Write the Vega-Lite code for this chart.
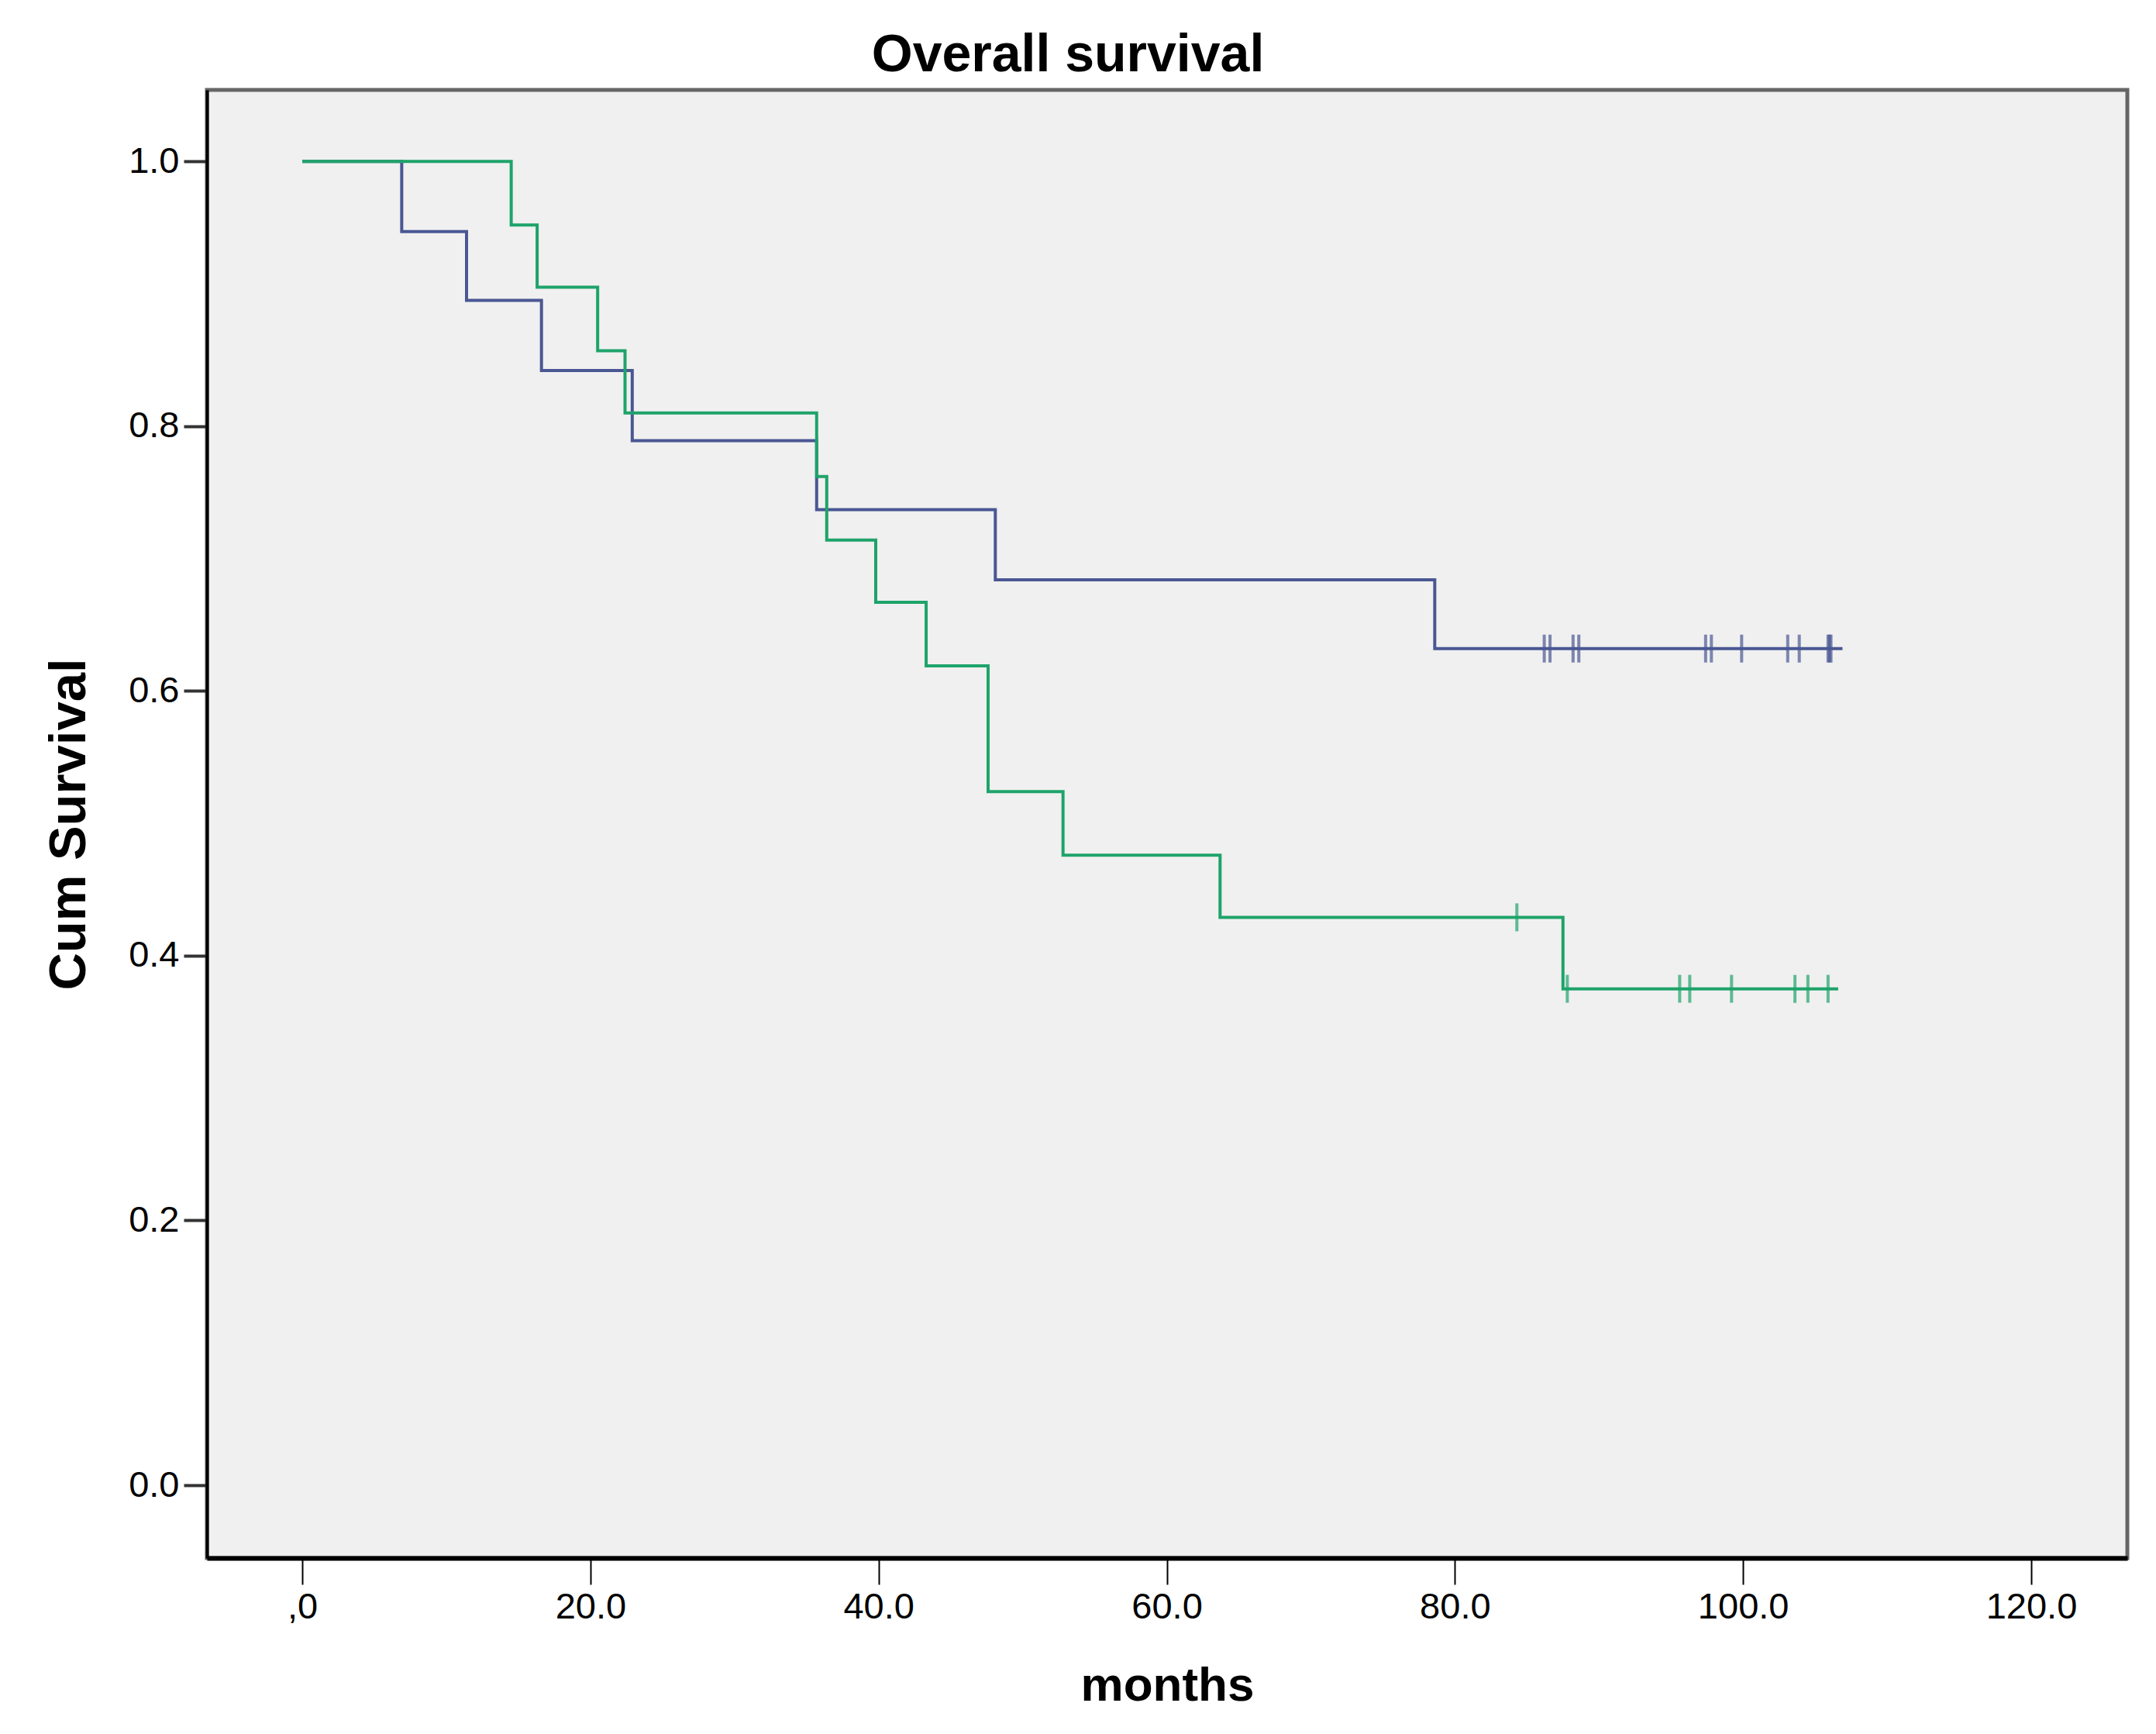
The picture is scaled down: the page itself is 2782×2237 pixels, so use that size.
{
  "$schema": "https://vega.github.io/schema/vega-lite/v6.json",
  "autosize": "none",
  "width": 2478,
  "height": 1894,
  "padding": {"left": 267, "top": 116, "right": 37, "bottom": 227},
  "background": "white",
  "title": {
    "text": "Overall survival",
    "font": "Liberation Sans",
    "fontSize": 68,
    "fontWeight": "bold",
    "color": "black",
    "anchor": "middle",
    "dx": -128,
    "offset": 10
  },
  "config": {
    "view": {"fill": "#f0f0f0", "stroke": "#666666", "strokeWidth": 5}
  },
  "datasets": {
    "curve": [
      {"group": "1", "months": 0, "surv": 1.0},
      {"group": "1", "months": 6.9, "surv": 0.947},
      {"group": "1", "months": 11.4, "surv": 0.895},
      {"group": "1", "months": 16.6, "surv": 0.842},
      {"group": "1", "months": 22.9, "surv": 0.789},
      {"group": "1", "months": 35.7, "surv": 0.737},
      {"group": "1", "months": 48.1, "surv": 0.684},
      {"group": "1", "months": 78.6, "surv": 0.632},
      {"group": "1", "months": 106.9, "surv": 0.632},
      {"group": "2", "months": 0, "surv": 1.0},
      {"group": "2", "months": 14.5, "surv": 0.952},
      {"group": "2", "months": 16.3, "surv": 0.905},
      {"group": "2", "months": 20.5, "surv": 0.857},
      {"group": "2", "months": 22.4, "surv": 0.81},
      {"group": "2", "months": 35.7, "surv": 0.762},
      {"group": "2", "months": 36.4, "surv": 0.714},
      {"group": "2", "months": 39.8, "surv": 0.667},
      {"group": "2", "months": 43.3, "surv": 0.619},
      {"group": "2", "months": 47.6, "surv": 0.524},
      {"group": "2", "months": 52.8, "surv": 0.476},
      {"group": "2", "months": 63.7, "surv": 0.429},
      {"group": "2", "months": 87.5, "surv": 0.375},
      {"group": "2", "months": 106.6, "surv": 0.375}
    ],
    "censored": [
      {"group": "1", "months": 86.2, "surv": 0.632},
      {"group": "1", "months": 86.6, "surv": 0.632},
      {"group": "1", "months": 88.2, "surv": 0.632},
      {"group": "1", "months": 88.6, "surv": 0.632},
      {"group": "1", "months": 97.4, "surv": 0.632},
      {"group": "1", "months": 97.8, "surv": 0.632},
      {"group": "1", "months": 99.9, "surv": 0.632},
      {"group": "1", "months": 103.1, "surv": 0.632},
      {"group": "1", "months": 103.9, "surv": 0.632},
      {"group": "1", "months": 105.9, "surv": 0.632},
      {"group": "1", "months": 106.0, "surv": 0.632},
      {"group": "1", "months": 106.1, "surv": 0.632},
      {"group": "2", "months": 84.3, "surv": 0.429},
      {"group": "2", "months": 87.8, "surv": 0.375},
      {"group": "2", "months": 95.6, "surv": 0.375},
      {"group": "2", "months": 96.3, "surv": 0.375},
      {"group": "2", "months": 99.2, "surv": 0.375},
      {"group": "2", "months": 103.6, "surv": 0.375},
      {"group": "2", "months": 104.5, "surv": 0.375},
      {"group": "2", "months": 105.9, "surv": 0.375}
    ]
  },
  "encoding": {
    "x": {
      "field": "months",
      "type": "quantitative",
      "scale": {"domain": [-6.62, 126.67], "nice": false, "zero": false},
      "axis": {
        "title": "months",
        "values": [0, 20, 40, 60, 80, 100, 120],
        "labelExpr": "datum.value == 0 ? ',0' : format(datum.value, '.1f')",
        "grid": false,
        "domainColor": "black",
        "domainWidth": 6,
        "tickColor": "black",
        "tickSize": 34,
        "tickWidth": 2,
        "labelFont": "Liberation Sans",
        "labelFontSize": 47,
        "labelColor": "black",
        "labelPadding": 6,
        "titleFont": "Liberation Sans",
        "titleFontSize": 62,
        "titleFontWeight": "bold",
        "titleColor": "black",
        "titlePadding": 48
      }
    },
    "y": {
      "field": "surv",
      "type": "quantitative",
      "scale": {"domain": [-0.055, 1.054], "nice": false, "zero": false},
      "axis": {
        "title": "Cum Survival",
        "values": [0, 0.2, 0.4, 0.6, 0.8, 1.0],
        "format": ".1f",
        "grid": false,
        "domainColor": "black",
        "domainWidth": 4,
        "tickColor": "#333333",
        "tickSize": 30,
        "tickWidth": 4,
        "labelFont": "Liberation Sans",
        "labelFontSize": 47,
        "labelColor": "black",
        "labelPadding": 6,
        "titleFont": "Liberation Sans",
        "titleFontSize": 67,
        "titleFontWeight": "bold",
        "titleColor": "black",
        "titlePadding": 42
      }
    },
    "color": {
      "field": "group",
      "type": "nominal",
      "scale": {"domain": ["1", "2"], "range": ["#4a5793", "#1ea36a"]},
      "legend": null
    }
  },
  "layer": [
    {
      "data": {"name": "curve"},
      "mark": {"type": "line", "interpolate": "step-after", "strokeWidth": 4}
    },
    {
      "data": {"name": "censored"},
      "mark": {"type": "tick", "orient": "vertical", "size": 36, "thickness": 4}
    }
  ]
}
